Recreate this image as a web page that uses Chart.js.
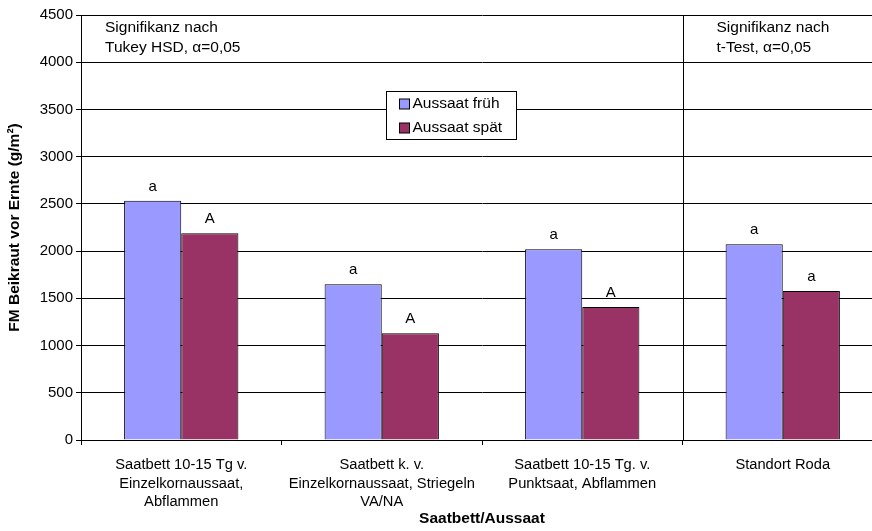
<!DOCTYPE html>
<html>
<head>
<meta charset="utf-8">
<script src="https://cdn.jsdelivr.net/npm/chart.js@4/dist/chart.umd.min.js"></script>
<style>
  html, body { margin: 0; padding: 0; background: #fff; overflow: hidden; }
  #wrap { width: 872px; height: 531px; overflow: hidden; position: relative; }
  canvas { display: block; }
</style>
</head>
<body>
<div id="wrap"><canvas id="c" width="884" height="531"></canvas></div>
<script>
// ---- data ----
const categories = [
  ["Saatbett 10-15 Tg v.", "Einzelkornaussaat,", "Abflammen"],
  ["Saatbett k. v.", "Einzelkornaussaat, Striegeln", "VA/NA"],
  ["Saatbett 10-15 Tg. v.", "Punktsaat, Abflammen"],
  ["Standort Roda"]
];
const seriesNames = ["Aussaat früh", "Aussaat spät"];
const fruehValues = [2534, 1648, 2020, 2072];
const spaetValues = [2188, 1130, 1408, 1578];
const fruehLetters = ["a", "a", "a", "a"];
const spaetLetters = ["A", "A", "A", "a"];
const yMin = 0, yMax = 4500, yStep = 500;
const yTitle = "FM Beikraut vor Ernte (g/m²)";
const xTitle = "Saatbett/Aussaat";
const noteLeft = ["Signifikanz nach", "Tukey HSD, α=0,05"];
const noteRight = ["Signifikanz nach", "t-Test, α=0,05"];

const FONT = "'Liberation Sans', Arial, sans-serif";
Chart.defaults.font.family = FONT;
Chart.defaults.color = "#000";

const lettersPlugin = {
  id: "letters",
  afterDatasetsDraw(chart) {
    const ctx = chart.ctx;
    const letterSets = [fruehLetters, spaetLetters];
    ctx.save();
    ctx.font = "15px " + FONT;
    ctx.fillStyle = "#000";
    ctx.textAlign = "center";
    ctx.textBaseline = "alphabetic";
    chart.data.datasets.forEach((ds, di) => {
      const meta = chart.getDatasetMeta(di);
      meta.data.forEach((bar, i) => {
        ctx.fillText(letterSets[di][i], bar.x, bar.y - 10);
      });
    });
    ctx.restore();
  }
};

const dividerPlugin = {
  id: "divider",
  afterDatasetsDraw(chart) {
    const ctx = chart.ctx;
    const xs = chart.scales.x;
    const a = chart.chartArea;
    const x = Math.round((xs.getPixelForValue(2) + xs.getPixelForValue(3)) / 2) + 0.5;
    ctx.save();
    ctx.strokeStyle = "#000";
    ctx.lineWidth = 1;
    ctx.beginPath();
    ctx.moveTo(x, a.top);
    ctx.lineTo(x, a.bottom);
    ctx.stroke();
    ctx.restore();
  }
};

const notesPlugin = {
  id: "notes",
  afterDraw(chart) {
    const ctx = chart.ctx;
    const a = chart.chartArea;
    const xs = chart.scales.x;
    const divX = (xs.getPixelForValue(2) + xs.getPixelForValue(3)) / 2;
    ctx.save();
    ctx.font = "15.5px " + FONT;
    ctx.fillStyle = "#000";
    ctx.textAlign = "left";
    ctx.textBaseline = "middle";
    noteLeft.forEach((t, i) => ctx.fillText(t, a.left + 24, a.top + 13 + i * 19.5));
    noteRight.forEach((t, i) => ctx.fillText(t, divX + 34, a.top + 13 + i * 19.5));
    ctx.restore();
  }
};

const legendPlugin = {
  id: "boxLegend",
  afterDraw(chart) {
    const ctx = chart.ctx;
    const bx = 386.5, by = 91.5, bw = 130, bh = 48;
    ctx.save();
    ctx.fillStyle = "#fff";
    ctx.fillRect(bx, by, bw, bh);
    ctx.strokeStyle = "#000";
    ctx.lineWidth = 1;
    ctx.strokeRect(bx, by, bw, bh);
    ctx.font = "15.5px " + FONT;
    ctx.textAlign = "left";
    ctx.textBaseline = "middle";
    chart.data.datasets.forEach((ds, i) => {
      const cy = by + 12.5 + i * 24;
      ctx.fillStyle = ds.backgroundColor;
      ctx.fillRect(bx + 13, cy - 5, 10, 10);
      ctx.strokeStyle = "#000";
      ctx.strokeRect(bx + 13, cy - 5, 10, 10);
      ctx.fillStyle = "#000";
      ctx.fillText(ds.label, bx + 26, cy);
    });
    ctx.restore();
  }
};

new Chart(document.getElementById("c"), {
  type: "bar",
  data: {
    labels: categories,
    datasets: [
      { label: seriesNames[0], data: fruehValues, backgroundColor: "#9999FF", borderColor: "#000", borderWidth: 1 },
      { label: seriesNames[1], data: spaetValues, backgroundColor: "#993366", borderColor: "#000", borderWidth: 1 }
    ]
  },
  options: {
    responsive: false,
    animation: false,
    devicePixelRatio: 1,
    layout: { padding: { top: 15, right: 1, left: 0, bottom: 0 } },
    categoryPercentage: 0.57,
    barPercentage: 1.0,
    plugins: {
      legend: { display: false },
      tooltip: { enabled: false }
    },
    scales: {
      x: {
        grid: { display: true, drawOnChartArea: false, drawTicks: true, tickLength: 5, color: "#000", offset: true },
        border: { display: true, color: "#000", width: 1 },
        ticks: { font: { size: 14.7, lineHeight: 1.25 }, padding: 11, maxRotation: 0, autoSkip: false, color: "#000" },
        title: { display: true, text: xTitle, font: { size: 15.5, weight: "bold" }, padding: { top: 0, bottom: 3 }, color: "#000" },
        afterFit(scale) { scale.height = 91; }
      },
      y: {
        min: yMin, max: yMax,
        grid: { color: "#000", lineWidth: 1, drawTicks: true, tickLength: 5 },
        border: { display: true, color: "#000", width: 1 },
        ticks: { stepSize: yStep, font: { size: 15 }, padding: 3, color: "#000", callback: (v) => String(v) },
        title: { display: true, text: yTitle, font: { size: 15.5, weight: "bold" }, padding: { top: 5, bottom: 0 }, color: "#000" },
        afterFit(scale) { scale.width = 81; }
      }
    }
  },
  plugins: [lettersPlugin, dividerPlugin, notesPlugin, legendPlugin]
});
</script>
</body>
</html>
